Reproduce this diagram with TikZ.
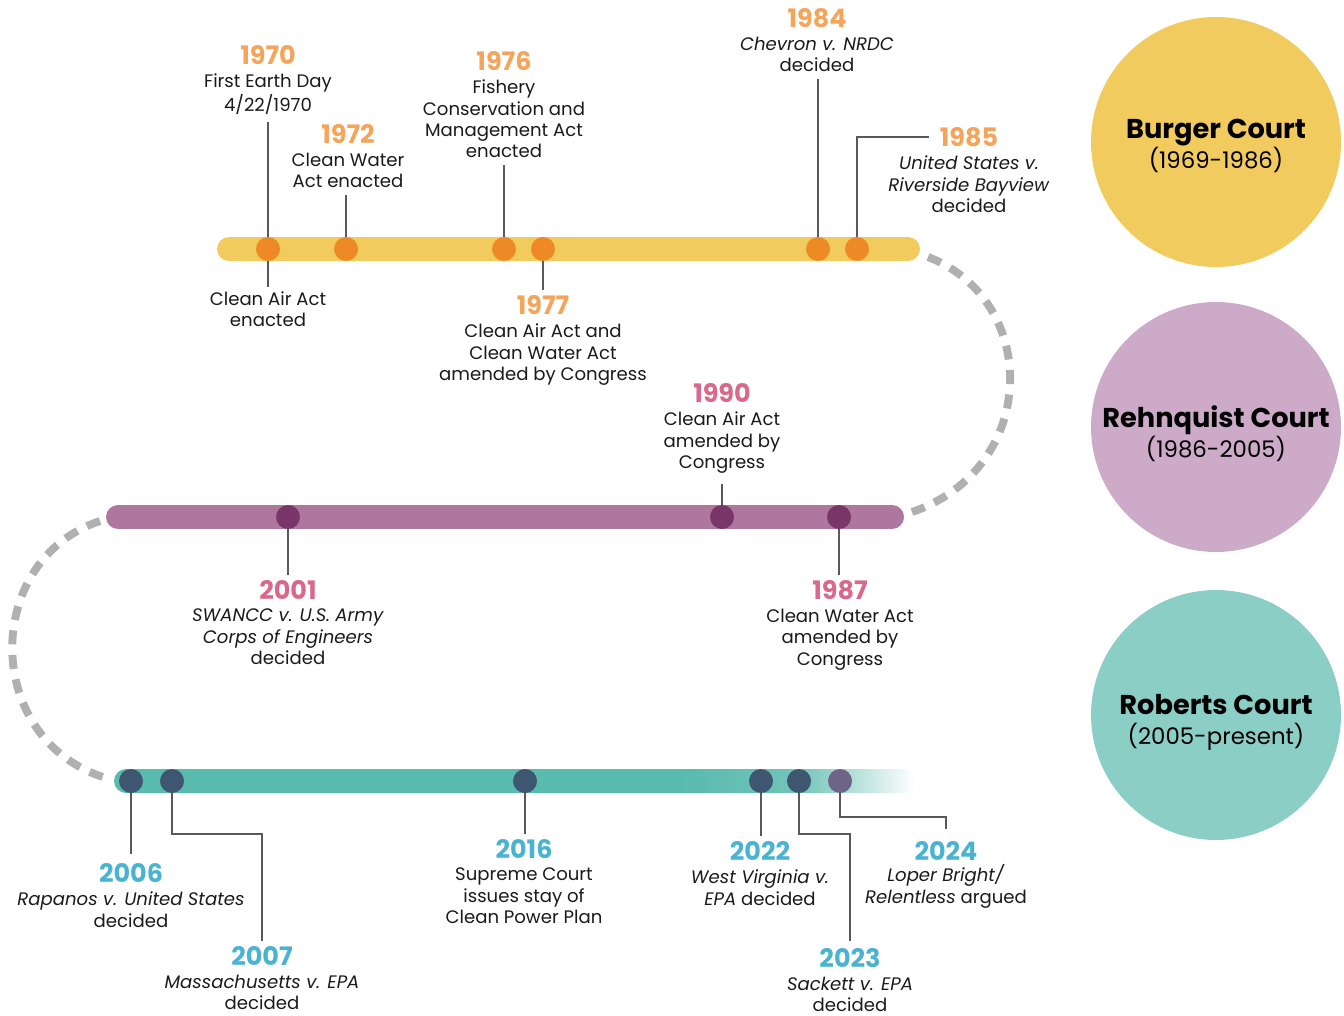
\documentclass[tikz,border=0pt]{standalone}
\usepackage{fontspec}
\setmainfont{Poppins}
\usetikzlibrary{positioning,calc}
\definecolor{burgerbar}{HTML}{F1CB5E}
\definecolor{burgerdot}{HTML}{EE8A26}
\definecolor{burgeryear}{HTML}{F4A55B}
\definecolor{rehnbar}{HTML}{AD779F}
\definecolor{rehndot}{HTML}{7B3669}
\definecolor{rehnyear}{HTML}{D9688A}
\definecolor{rehncircle}{HTML}{CDAAC7}
\definecolor{robbar}{HTML}{59BAAE}
\definecolor{robfade}{HTML}{72C4B9}
\definecolor{robdot}{HTML}{3F5671}
\definecolor{robyear}{HTML}{4AB3D1}
\definecolor{robcircle}{HTML}{8BCEC5}
\definecolor{lastdot}{HTML}{6E6488}
\definecolor{stemgray}{HTML}{58595B}
\definecolor{dashgray}{HTML}{B0B0B0}
\definecolor{textcolor}{HTML}{1A1A1A}
\pgfdeclarehorizontalshading{robbarfade}{100bp}{color(0bp)=(robbar); color(60.3bp)=(robbar); color(67.8bp)=(robfade); color(75bp)=(white); color(100bp)=(white)}
\begin{document}
\begin{tikzpicture}[x=0.02cm, y=-0.02cm,
    bar/.style={line width=0.48cm, line cap=round},
    dot/.style={circle, minimum size=0.48cm, inner sep=0pt},
    yearlbl/.style={inner sep=0pt, font=\fontsize{14.5}{16}\selectfont\bfseries},
    desc/.style={inner sep=0pt, align=center, text=textcolor, font=\fontsize{10.3}{12.1}\selectfont},
    stem/.style={draw=stemgray, line width=1.1pt, shorten >=4pt},
    link/.style={draw=dashgray, line width=4.5pt, dash pattern=on 8pt off 6pt},
    court/.style={circle, minimum size=5cm, inner sep=0pt},
    courtlbl/.style={inner sep=0pt, align=center, font=\fontsize{13}{17.2}\selectfont}
]
\useasboundingbox (0,0) rectangle (1344,1016);

% bar ends
\coordinate (b1r) at (928,257);
\coordinate (b2r) at (912,512);
\coordinate (b2l) at (100,521);
\coordinate (b3l) at (106,778);

\draw[link] (b1r) .. controls (1040,300) and (1040,468) .. (b2r);
\draw[link] (b2l) .. controls (-18,560) and (-18,740) .. (b3l);

\draw[bar, burgerbar] (229,249) -- (908,249);
\draw[bar, rehnbar] (118,517) -- (892,517);
\shade[shading=robbarfade, rounded corners=0.24cm] (114,769) rectangle (915,793);

% courts
\node[court, fill=burgerbar] (burger) at (1216,142) {};
\node[court, fill=rehncircle] (rehnquist) at (1216,427) {};
\node[court, fill=robcircle] (roberts) at (1216,715) {};
\node[courtlbl] (burgertxt) at (1216,146) {{\fontsize{15.5}{17}\selectfont\bfseries Burger Court}\\(1969-1986)};
\node[courtlbl] (rehnquisttxt) at (1216,434) {{\fontsize{15.5}{17}\selectfont\bfseries Rehnquist Court}\\(1986-2005)};
\node[courtlbl] (robertstxt) at (1216,722) {{\fontsize{15.5}{17}\selectfont\bfseries Roberts Court}\\(2005-present)};

% Burger dots
\node[dot, fill=burgerdot] (d70) at (268,249) {};
\node[dot, fill=burgerdot] (d72) at (346,249) {};
\node[dot, fill=burgerdot] (d76) at (504,249) {};
\node[dot, fill=burgerdot] (d77) at (543,249) {};
\node[dot, fill=burgerdot] (d84) at (818,249) {};
\node[dot, fill=burgerdot] (d85) at (857,249) {};

\node[yearlbl, text=burgeryear] (y70) at (268,55) {1970};
\node[desc, below=5pt of y70] (t70) {First Earth Day\\4/22/1970};
\node[desc, anchor=north] (c70) at (268,291) {Clean Air Act\\enacted};
\node[yearlbl, text=burgeryear] (y72) at (348,134) {1972};
\node[desc, below=5pt of y72] (t72) {Clean Water\\Act enacted};
\node[yearlbl, text=burgeryear] (y76) at (504,61) {1976};
\node[desc, below=5pt of y76] (t76) {Fishery\\Conservation and\\Management Act\\enacted};
\node[yearlbl, text=burgeryear] (y77) at (543,305) {1977};
\node[desc, below=5pt of y77] (t77) {Clean Air Act and\\Clean Water Act\\amended by Congress};
\node[yearlbl, text=burgeryear] (y84) at (817,18) {1984};
\node[desc, below=5pt of y84] (t84) {\textit{Chevron v. NRDC}\\decided};
\node[yearlbl, text=burgeryear] (y85) at (969,137) {1985};
\node[desc, below=5pt of y85] (t85) {\textit{United States v.}\\\textit{Riverside Bayview}\\decided};

\draw[stem] (d70) -- (d70 |- t70.south);
\draw[stem, shorten >=2pt] (d70) -- (c70);
\draw[stem] (d72) -- (d72 |- t72.south);
\draw[stem] (d76) -- (d76 |- t76.south);
\draw[stem, shorten >=3pt] (d77) -- (d77 |- y77.north);
\draw[stem] (d84) -- (d84 |- t84.south);
\draw[stem, shorten >=6pt] (d85) |- (y85);

% Rehnquist dots
\node[dot, fill=rehndot] (d01) at (288,517) {};
\node[dot, fill=rehndot] (d90) at (722,517) {};
\node[dot, fill=rehndot] (d87) at (839,517) {};

\node[yearlbl, text=rehnyear] (y01) at (288,590) {2001};
\node[desc, below=5pt of y01] (t01) {\textit{SWANCC v. U.S. Army}\\\textit{Corps of Engineers}\\decided};
\node[yearlbl, text=rehnyear] (y90) at (722,393) {1990};
\node[desc, below=5pt of y90] (t90) {Clean Air Act\\amended by\\Congress};
\node[yearlbl, text=rehnyear] (y87) at (840,590) {1987};
\node[desc, below=5pt of y87] (t87) {Clean Water Act\\amended by\\Congress};

\draw[stem, shorten >=3pt] (d01) -- (d01 |- y01.north);
\draw[stem, shorten >=6pt] (d90) -- (d90 |- t90.south);
\draw[stem, shorten >=3pt] (d87) -- (d87 |- y87.north);

% Roberts dots
\node[dot, fill=robdot] (d06) at (131,781) {};
\node[dot, fill=robdot] (d07) at (172,781) {};
\node[dot, fill=robdot] (d16) at (525,781) {};
\node[dot, fill=robdot] (d22) at (761,781) {};
\node[dot, fill=robdot] (d23) at (799,781) {};
\node[dot, fill=lastdot] (d24) at (840,781) {};

\node[yearlbl, text=robyear] (y06) at (131,873) {2006};
\node[desc, below=5pt of y06] (t06) {\textit{Rapanos v. United States}\\decided};
\node[yearlbl, text=robyear] (y07) at (262,956) {2007};
\node[desc, below=5pt of y07] (t07) {\textit{Massachusetts v. EPA}\\decided};
\node[yearlbl, text=robyear] (y16) at (524,849) {2016};
\node[desc, below=5pt of y16] (t16) {Supreme Court\\issues stay of\\Clean Power Plan};
\node[yearlbl, text=robyear] (y22) at (760,851) {2022};
\node[desc, below=5pt of y22] (t22) {\textit{West Virginia v.}\\\textit{EPA} decided};
\node[yearlbl, text=robyear] (y23) at (850,958) {2023};
\node[desc, below=5pt of y23] (t23) {\textit{Sackett v. EPA}\\decided};
\node[yearlbl, text=robyear] (y24) at (946,851) {2024};
\node[desc, below=2pt of y24] (t24) {\textit{Loper Bright/}\\\textit{Relentless} argued};

\draw[stem, shorten >=5pt] (d06) -- (d06 |- y06.north);
\draw[stem, shorten >=3pt] (d07) -- ++(0,53) -| (y07);
\draw[stem, shorten >=3pt] (d16) -- (d16 |- y16.north);
\draw[stem, shorten >=3pt] (d22) -- (d22 |- y22.north);
\draw[stem, shorten >=4pt] (d23) -- ++(0,53) -| (y23);
\draw[stem, shorten >=7pt] (d24) -- ++(0,36) -| (y24);
\end{tikzpicture}
\end{document}
